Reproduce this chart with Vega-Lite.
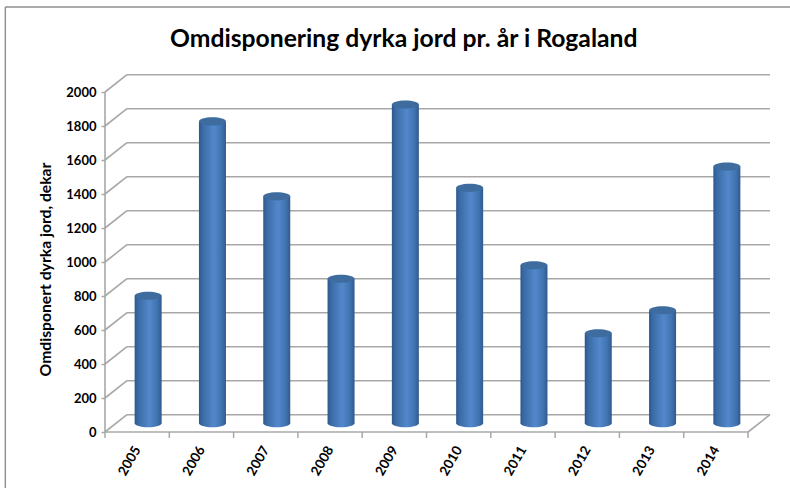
{"$schema":"https://vega.github.io/schema/vega-lite/v6.json","width":667,"height":358,"autosize":{"type":"none"},"padding":{"left":105,"top":74,"right":18,"bottom":56},"background":"white","view":{"stroke":null},
"config":{"axisY":{"labelOverlap":false},"axisX":{"labelOverlap":false},"axis":{"labelOverlap":false}},
"title":{"text":"Omdisponering dyrka jord pr. år i Rogaland","font":"Lato","fontSize":24.7,"fontWeight":"bold","color":"#000000","anchor":"start","frame":"group","dx":65,"offset":-45},
"datasets":{"border":[{"x":2002.95,"x2":2015.2,"y":2500,"y2":2500},{"x":2002.95,"x2":2002.95,"y":2500,"y2":-340}],"walls":[
{"x":2004.842,"x2":2014.842,"y":101.8,"y2":101.8},{"x":2004.842,"x2":2014.842,"y":301.8,"y2":301.8},{"x":2004.842,"x2":2014.842,"y":501.8,"y2":501.8},{"x":2004.842,"x2":2014.842,"y":701.8,"y2":701.8},{"x":2004.842,"x2":2014.842,"y":901.8,"y2":901.8},{"x":2004.842,"x2":2014.842,"y":1101.8,"y2":1101.8},{"x":2004.842,"x2":2014.842,"y":1301.8,"y2":1301.8},{"x":2004.842,"x2":2014.842,"y":1501.8,"y2":1501.8},{"x":2004.842,"x2":2014.842,"y":1701.8,"y2":1701.8},{"x":2004.842,"x2":2014.842,"y":1901.8,"y2":1901.8},{"x":2004.842,"x2":2014.842,"y":2101.8,"y2":2101.8},
{"x":2004.5,"x2":2004.842,"y":0,"y2":101.8},{"x":2004.5,"x2":2004.842,"y":200,"y2":301.8},{"x":2004.5,"x2":2004.842,"y":400,"y2":501.8},{"x":2004.5,"x2":2004.842,"y":600,"y2":701.8},{"x":2004.5,"x2":2004.842,"y":800,"y2":901.8},{"x":2004.5,"x2":2004.842,"y":1000,"y2":1101.8},{"x":2004.5,"x2":2004.842,"y":1200,"y2":1301.8},{"x":2004.5,"x2":2004.842,"y":1400,"y2":1501.8},{"x":2004.5,"x2":2004.842,"y":1600,"y2":1701.8},{"x":2004.5,"x2":2004.842,"y":1800,"y2":1901.8},{"x":2004.5,"x2":2004.842,"y":2000,"y2":2101.8},
{"x":2014.5,"x2":2014.842,"y":0,"y2":101.8},{"x":2004.5,"x2":2014.5,"y":0,"y2":0},{"x":2004.5,"x2":2004.5,"y":0,"y2":2000}],
"ticks":[{"x":2004.5},{"x":2005.5},{"x":2006.5},{"x":2007.5},{"x":2008.5},{"x":2009.5},{"x":2010.5},{"x":2011.5},{"x":2012.5},{"x":2013.5},{"x":2014.5}],
"bars":[{"year":2005,"value":750},{"year":2006,"value":1776},{"year":2007,"value":1335},{"year":2008,"value":850},{"year":2009,"value":1875},{"year":2010,"value":1385},{"year":2011,"value":930},{"year":2012,"value":530},{"year":2013,"value":665},{"year":2014,"value":1510}]},
"layer":[
{"data":{"name":"border"},"mark":{"type":"rule","color":"#8e8e8e","strokeWidth":1.4,"clip":false},"encoding":{"x":{"field":"x","type":"quantitative"},"x2":{"field":"x2"},"y":{"field":"y","type":"quantitative"},"y2":{"field":"y2"}}},
{"data":{"name":"walls"},"mark":{"type":"rule","color":"#a8a8a8","strokeWidth":1.6},"encoding":{"x":{"field":"x","type":"quantitative","scale":{"domain":[2004.5,2014.873],"nice":false,"zero":false,"padding":0},"axis":{"values":[2005,2006,2007,2008,2009,2010,2011,2012,2013,2014],"title":null,"grid":false,"domain":false,"ticks":false,"format":"d","labelAngle":-60,"labelFont":"Lato","labelFontWeight":"bold","labelFontSize":13.5,"labelColor":"#000000","labelAlign":"right","labelBaseline":"middle","labelPadding":15,"labelFlush":false,"labelOverlap":false}},"x2":{"field":"x2"},"y":{"field":"y","type":"quantitative","scale":{"domain":[0,2105.9],"nice":false},"axis":{"values":[0,200,400,600,800,1000,1200,1400,1600,1800,2000],"format":"d","labelOverlap":false,"labelBound":false,"labelFlush":false,"labelSeparation":0,"labelBaseline":"middle","labelExpr":"datum.label","tickCount":11,"title":"Omdisponert dyrka jord, dekar","titleFont":"Lato","titleFontWeight":"bold","titleFontSize":15.7,"titleColor":"#000000","titleX":-52,"titleY":195,"grid":false,"domain":false,"tickColor":"#a8a8a8","tickSize":4,"tickWidth":1.5,"labelFont":"Lato","labelFontWeight":"bold","labelFontSize":13,"labelColor":"#000000","labelPadding":5}},"y2":{"field":"y2"}}},
{"data":{"name":"ticks"},"mark":{"type":"rule","color":"#a8a8a8","strokeWidth":1.5,"y2Offset":6},"encoding":{"x":{"field":"x","type":"quantitative"},"y":{"datum":0,"type":"quantitative"},"y2":{"datum":0}}},
{"data":{"name":"bars"},"mark":{"type":"point","shape":"M-1,0A1,0.3,0,0,0,1,0A1,0.3,0,0,0,-1,0Z","size":729,"filled":true,"opacity":1,"xOffset":11,"yOffset":-8.7,"fill":{"gradient":"linear","x1":0,"x2":1,"y1":0,"y2":0,"stops":[{"offset":0,"color":"#2b5688"},{"offset":0.12,"color":"#3a6aa5"},{"offset":0.55,"color":"#5288cb"},{"offset":0.85,"color":"#3f72ae"},{"offset":1,"color":"#2f5a8c"}]}},"encoding":{"x":{"field":"year","type":"quantitative"},"y":{"datum":0,"type":"quantitative"}}},
{"data":{"name":"bars"},"mark":{"type":"bar","width":27,"xOffset":11,"yOffset":-8.7,"y2Offset":-8.7,"fill":{"gradient":"linear","x1":0,"x2":1,"y1":0,"y2":0,"stops":[{"offset":0,"color":"#2b5688"},{"offset":0.12,"color":"#3a6aa5"},{"offset":0.55,"color":"#5288cb"},{"offset":0.85,"color":"#3f72ae"},{"offset":1,"color":"#2f5a8c"}]}},"encoding":{"x":{"field":"year","type":"quantitative"},"y":{"field":"value","type":"quantitative"}}},
{"data":{"name":"bars"},"mark":{"type":"point","shape":"M-1,0A1,0.3,0,0,0,1,0A1,0.3,0,0,0,-1,0Z","size":729,"filled":true,"opacity":1,"fill":"#3e6c9f","xOffset":11,"yOffset":-8.7},"encoding":{"x":{"field":"year","type":"quantitative"},"y":{"field":"value","type":"quantitative"}}}
]}
